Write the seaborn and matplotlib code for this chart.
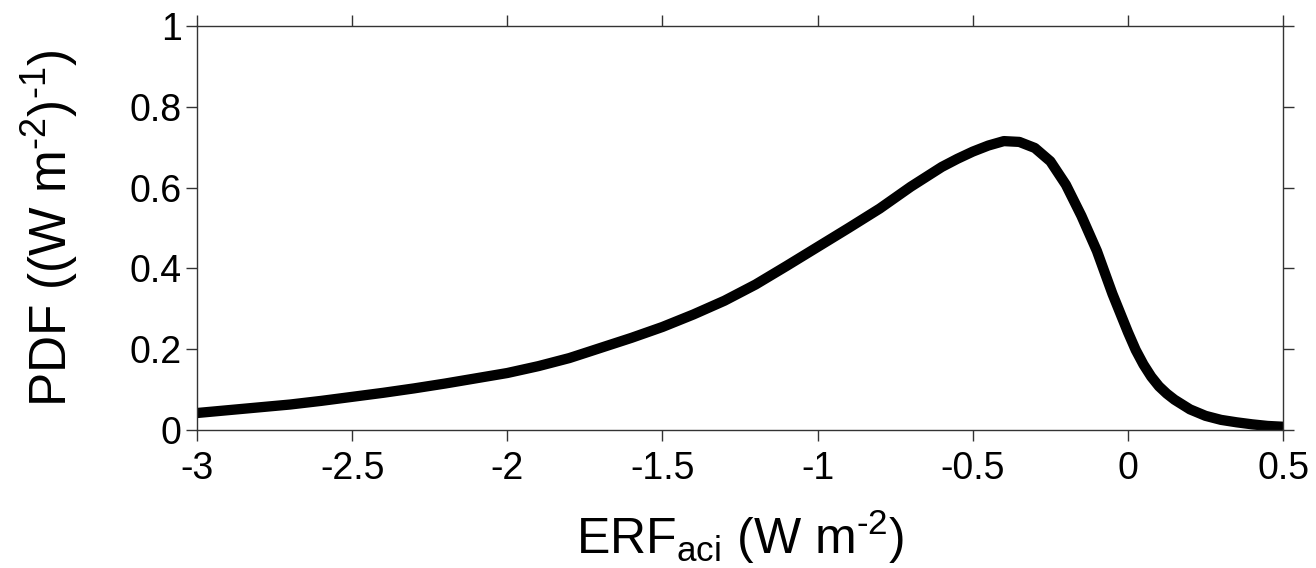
import matplotlib
matplotlib.use("Agg")
import matplotlib.pyplot as plt
import seaborn as sns
import pandas as pd

# ---- data ----
erf_aci = [-3.0, -2.9, -2.8, -2.7, -2.6, -2.5, -2.4, -2.3, -2.2, -2.1,
           -2.0, -1.9, -1.8, -1.7, -1.6, -1.5, -1.4, -1.3, -1.2, -1.1,
           -1.0, -0.9, -0.8, -0.7, -0.6, -0.55, -0.5, -0.45, -0.4, -0.35,
           -0.3, -0.25, -0.2, -0.15, -0.1, -0.05, 0.0, 0.025, 0.05, 0.075,
           0.1, 0.125, 0.15, 0.2, 0.25, 0.3, 0.35, 0.4, 0.45, 0.5]
pdf_vals = [0.042, 0.049, 0.056, 0.063, 0.072, 0.082, 0.092, 0.103, 0.115, 0.128,
            0.141, 0.158, 0.178, 0.203, 0.228, 0.255, 0.286, 0.320, 0.360, 0.406,
            0.453, 0.500, 0.548, 0.602, 0.651, 0.671, 0.689, 0.704, 0.715, 0.713,
            0.698, 0.665, 0.607, 0.530, 0.443, 0.337, 0.242, 0.198, 0.162, 0.132,
            0.108, 0.090, 0.075, 0.051, 0.035, 0.025, 0.019, 0.014, 0.010, 0.008]

x_ticks = [-3, -2.5, -2, -1.5, -1, -0.5, 0, 0.5]
x_tick_labels = ["-3", "-2.5", "-2", "-1.5", "-1", "-0.5", "0", "0.5"]
y_ticks = [0, 0.2, 0.4, 0.6, 0.8, 1]
y_tick_labels = ["0", "0.2", "0.4", "0.6", "0.8", "1"]

x_label = r"ERF$_{\mathrm{aci}}$ (W m$^{\text{-2}}$)"
y_label = r"PDF ((W m$^{\text{-2}}$)$^{\text{-1}}$)"

df = pd.DataFrame({"erf": erf_aci, "pdf": pdf_vals})

# ---- style ----
sns.set_theme(style="ticks")
plt.rcParams["font.family"] = ["Liberation Sans", "DejaVu Sans"]
plt.rcParams["mathtext.fontset"] = "custom"
plt.rcParams["mathtext.rm"] = "Liberation Sans"
plt.rcParams["mathtext.it"] = "Liberation Sans"
plt.rcParams["mathtext.bf"] = "Liberation Sans:bold"
plt.rcParams["axes.unicode_minus"] = False

fig = plt.figure(figsize=(13.16, 5.68), dpi=100)
ax = fig.add_axes([0.1497, 0.243, 0.8253, 0.7113])

sns.lineplot(data=df, x="erf", y="pdf", color="black", linewidth=7.4,
             ax=ax, sort=False)
for ln in ax.get_lines():
    ln.set_solid_capstyle("butt")
    ln.set_solid_joinstyle("round")

ax.set_xlim(-3, 0.5)
ax.set_ylim(0, 1)
ax.set_xticks(x_ticks)
ax.set_xticklabels(x_tick_labels)
ax.set_yticks(y_ticks)
ax.set_yticklabels(y_tick_labels)

spine_col = "#333333"
for s in ax.spines.values():
    s.set_visible(True)
    s.set_color(spine_col)
    s.set_linewidth(1.0)

ax.tick_params(axis="both", which="major", direction="out", length=8,
               width=1.0, color=spine_col, labelsize=27, labelcolor="black",
               top=True, right=True)
ax.tick_params(axis="x", pad=7)
ax.tick_params(axis="y", pad=3)
ax.grid(False)

ax.set_xlabel(x_label, fontsize=36, labelpad=15, color="black")
ax.set_ylabel(y_label, fontsize=37, labelpad=36, color="black")

fig.savefig("out.png", dpi=100)
